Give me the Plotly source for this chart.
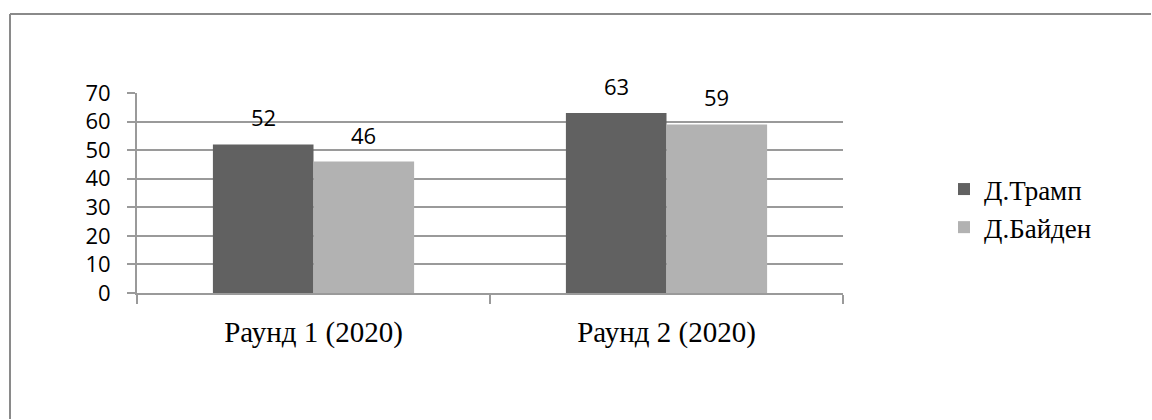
import plotly.graph_objects as go

# Poll results per round
rounds = ["Раунд 1 (2020)", "Раунд 2 (2020)"]
trump = [52, 63]
biden = [46, 59]
series_names = ["Д.Трамп", "Д.Байден"]
y_ticks = [0, 10, 20, 30, 40, 50, 60, 70]

series_values = [trump, biden]
series_colors = ["#616161", "#b2b2b2"]

BARGAP = 0.43
bar_w = (1 - BARGAP) / len(series_values)

GRID = "#9a9a9a"
FRAME = "#8a8a8a"
NUM_FONT = dict(family="Open Sans", size=22, color="#000000")
SERIF_FONT = dict(family="Liberation Serif", size=29, color="#000000")

W, H = 1152, 420
M_L, M_R, M_T, M_B = 137, 309, 93, 127
plot_w = W - M_L - M_R
plot_h = H - M_T - M_B


def px_to_paper_x(px):
    return (px - M_L) / plot_w


def px_to_paper_y(py):
    return (H - M_B - py) / plot_h


fig = go.Figure()
for name, vals, col in zip(series_names, series_values, series_colors):
    fig.add_bar(x=rounds, y=vals, name=name, marker=dict(color=col, line=dict(width=0)))

# value labels above each bar
annotations = []
for k, vals in enumerate(series_values):
    offset = (k - (len(series_values) - 1) / 2) * bar_w
    for i, v in enumerate(vals):
        annotations.append(dict(
            x=i + offset, y=v, xref="x", yref="y", text=str(v),
            showarrow=False, yanchor="middle", yshift=27, font=NUM_FONT,
        ))

fig.update_layout(
    width=W, height=H,
    margin=dict(l=M_L, r=M_R, t=M_T, b=M_B),
    paper_bgcolor="white", plot_bgcolor="white",
    barmode="group", bargap=BARGAP, bargroupgap=0,
    showlegend=True,
    legend=dict(
        x=px_to_paper_x(944), y=px_to_paper_y(165), xanchor="left", yanchor="top",
        font=dict(family="Liberation Serif", size=27, color="#000000"),
        bgcolor="rgba(0,0,0,0)", traceorder="normal",
    ),
    annotations=annotations,
    shapes=[
        # outer chart frame (left and top edges)
        dict(type="line", xref="paper", yref="paper",
             x0=px_to_paper_x(10), x1=px_to_paper_x(10),
             y0=px_to_paper_y(H - 1), y1=px_to_paper_y(14),
             line=dict(color=FRAME, width=2), layer="below"),
        dict(type="line", xref="paper", yref="paper",
             x0=px_to_paper_x(10), x1=px_to_paper_x(W - 1),
             y0=px_to_paper_y(14), y1=px_to_paper_y(14),
             line=dict(color=FRAME, width=2), layer="below"),
    ],
)

fig.update_xaxes(
    type="category", range=[-0.5, 1.5], tickson="boundaries",
    ticks="outside", ticklen=9, tickwidth=2, tickcolor=GRID,
    showline=True, linecolor=GRID, linewidth=2, showgrid=False,
    tickfont=SERIF_FONT, ticklabelstandoff=12,
)
fig.update_yaxes(
    range=[0, 70], tickvals=y_ticks, ticks="outside", ticklen=8, tickwidth=2,
    tickcolor=GRID, showline=True, linecolor=GRID, linewidth=2,
    showgrid=True, gridcolor=GRID, gridwidth=2, zeroline=False,
    tickfont=NUM_FONT, ticklabelstandoff=12,
)

# keep the page itself from scrolling
fig.write_html(
    "out.html",
    config={"displayModeBar": False},
    post_script="document.body.style.margin='0';document.body.style.overflow='hidden';",
)
